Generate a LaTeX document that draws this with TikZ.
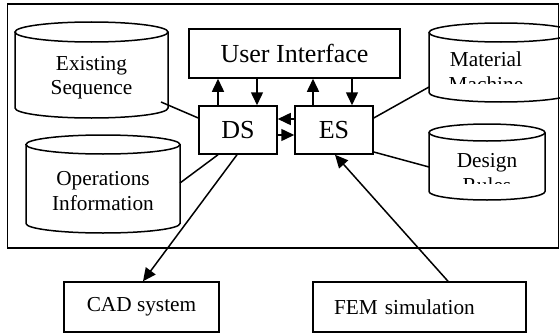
\documentclass[tikz,border=0pt]{standalone}
\usepackage{fontspec}
\setmainfont{Liberation Serif}
\usetikzlibrary{arrows.meta,calc}
\tikzset{
  ln/.style={line width=1.5pt},
  box/.style={draw, line width=1.5pt, inner sep=0pt},
  arr/.style={line width=1.5pt, -{Triangle[length=13pt,width=12pt]}},
  bigtxt/.style={font=\fontsize{26}{30}\selectfont},
  smtxt/.style={font=\fontsize{21.3}{25}\selectfont},
  cyltxt/.style={font=\fontsize{21.3}{25}\selectfont, inner sep=0pt, anchor=base},
}
\newcommand\cylfig[5]{% x1, x2, ytop, ybot, ry
  \draw[ln] (#1,#3-#5) -- (#1,#4+#5)
    arc[start angle=180, end angle=360, x radius={(#2-#1)/2}, y radius=#5]
    -- (#2,#3-#5);
  \draw[ln] ({(#1+#2)/2},#3-#5) ellipse[x radius={(#2-#1)/2}, y radius=#5];
}
\begin{document}
\begin{tikzpicture}[x=1pt,y=1pt]
\useasboundingbox (0,0) rectangle (560,333);
\clip (0,0) rectangle (560,333);
% outer frame
\node[box, minimum width=551pt, minimum height=244pt] (frame) at (283,207) {};
% cylinders
\cylfig{15}{168}{311}{215}{10}
\cylfig{26}{180}{198}{100}{9.5}
\cylfig{429}{573}{310}{231}{9.5}
\cylfig{429}{545}{209}{133}{8.5}
\node[cyltxt] (exs1) at (91.5,262) {Existing};
\node[cyltxt] (exs2) at (91.5,239) {Sequence};
\node[cyltxt] (ops1) at (103,148) {Operations};
\node[cyltxt] (ops2) at (103,123) {Information};
\begin{scope}
  \clip (420,250) rectangle (560,320);
  \node[cyltxt] (mat1) at (486,267) {Material};
  \node[cyltxt] (mat2) at (486,242) {Machine};
\end{scope}
\begin{scope}
  \clip (420,150) rectangle (560,215);
  \node[cyltxt] (des1) at (487,166) {Design};
  \node[cyltxt] (des2) at (487,141) {Rules};
\end{scope}
% boxes
\node[box, bigtxt, minimum width=211pt, minimum height=49pt] (UI) at (294.5,279.5) {User Interface};
\node[box, bigtxt, minimum width=78pt, minimum height=48pt] (DS) at (238,203) {DS};
\node[box, bigtxt, minimum width=78pt, minimum height=48pt] (ES) at (334,203) {ES};
\node[box, smtxt, minimum width=155pt, minimum height=50pt] (CAD) at (141.5,26) {CAD system};
\node[box, smtxt, text width=171pt, inner xsep=21pt, align=left, minimum height=50pt] (FEM) at (419.5,26) {FEM simulation};
% connector ends on cylinders
\coordinate (exsP) at (161,231);
\coordinate (opsP) at (180,150);
\coordinate (matP) at (429,246);
\coordinate (desP) at (429,166);
% DS / ES with UI
\draw[arr] ([xshift=-20pt]DS.north) -- ([xshift=-20pt]DS.north |- UI.south);
\draw[arr] ([xshift=19pt]DS.north |- UI.south) -- ([xshift=19pt]DS.north);
\draw[arr] ([xshift=-21pt]ES.north) -- ([xshift=-21pt]ES.north |- UI.south);
\draw[arr] ([xshift=18pt]ES.north |- UI.south) -- ([xshift=18pt]ES.north);
% DS <-> ES
\draw[arr] ([yshift=11pt]ES.west) -- ([yshift=11pt]DS.east);
\draw[arr] ([yshift=-5pt]DS.east) -- ([yshift=-5pt]ES.west);
% lines to cylinders
\draw[ln] (exsP) -- ([yshift=12pt]DS.west);
\draw[ln] (opsP) -- ([xshift=-20pt]DS.south);
\draw[ln] ([yshift=12pt]ES.east) -- (matP);
\draw[ln] ([yshift=-22pt]ES.east) -- (desP);
% external
\draw[arr] ([xshift=-1pt]DS.south) -- ([xshift=1.5pt]CAD.north);
\draw[arr] ([xshift=28.5pt]FEM.north) -- ([xshift=1pt]ES.south);
\end{tikzpicture}
\end{document}
